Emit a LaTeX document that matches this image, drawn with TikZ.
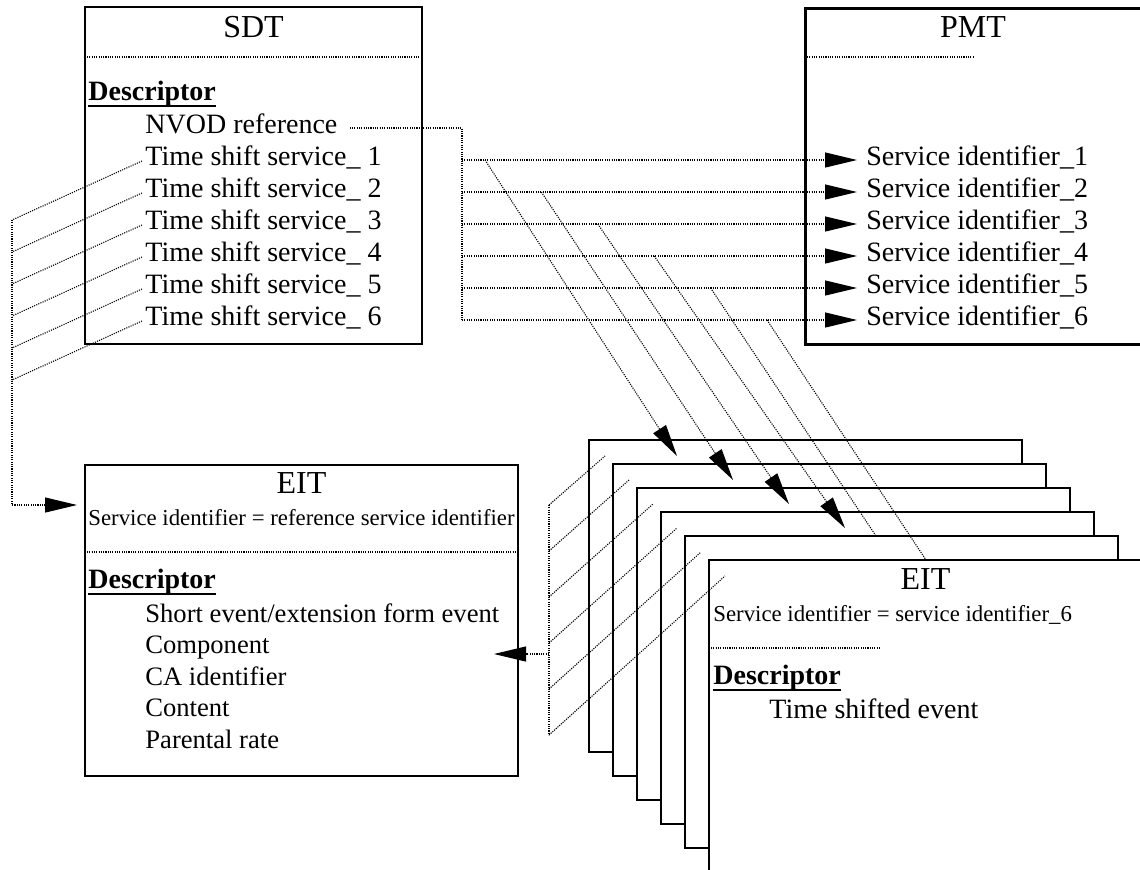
\documentclass[tikz,border=0pt]{standalone}
\usepackage{fontspec}
\setmainfont{Liberation Serif}
\usetikzlibrary{arrows.meta}

\tikzset{
  txt/.style={inner sep=0pt, anchor=base west, font=\fontsize{14}{16}\selectfont},
  ttl/.style={inner sep=0pt, anchor=base, font=\fontsize{16}{18}\selectfont},
  smalltxt/.style={inner sep=0pt, anchor=base, font=\fontsize{11.4}{13}\selectfont},
  desc/.style={txt, font=\fontsize{14}{16}\selectfont\bfseries},
  link/.style={line width=0.55pt, dash pattern=on 0.55pt off 0.6pt},
  arr/.style={-{Triangle[length=16pt,width=7.5pt]}},
  tbox/.style={draw, line width=0.75pt},
  eitpage/.style={draw, fill=white, line width=0.65pt},
}

\begin{document}
\begin{tikzpicture}[x=0.5pt,y=-0.5pt]
  \useasboundingbox (0,0) rectangle (1140,869);

  % SDT
  \draw[tbox] (85,7) rectangle (422,344);
  \node[ttl] (sdt) at (253.5,37) {SDT};
  \draw[link] (87,57) -- (420,57);
  \node[desc] (sdtdesc) at (88,100) {Descriptor};
  \node[txt] (nvod) at (145,133) {NVOD reference};
  \foreach \k in {1,...,6}
    \node[txt] (tss\k) at (145,133+32*\k) {Time shift service\_ \k};

  % PMT
  \draw[tbox, line width=1.5pt] (805,8) rectangle (1146,344);
  \node[ttl] (pmt) at (973,37) {PMT};
  \draw[link] (807,57) -- (973,57);
  \foreach \k in {1,...,6}
    \node[txt] (sid\k) at (866,133+32*\k) {Service identifier\_\k};

  % EIT of the reference service
  \draw[tbox] (85,465) rectangle (518,776);
  \node[ttl] (eit) at (301.5,493) {EIT};
  \node[smalltxt] (eitsid) at (301.5,525) {Service identifier = reference service identifier};
  \draw[link] (87,552) -- (516,552);
  \node[desc] (eitdesc) at (88,588) {Descriptor};
  \foreach \t [count=\i from 0] in {Short event/extension form event, Component,
      CA identifier, Content, Parental rate}
    \node[txt, font=\fontsize{13.3}{16}\selectfont] (item\i) at (145,622+31.5*\i) {\t};

  % EITs of the time shifted services
  \foreach \k in {0,...,5}
    \draw[eitpage] (589+24*\k,440+24*\k) rectangle ++(433,312);
  \node[ttl] (eit6) at (925.5,589) {EIT};
  \node[smalltxt, anchor=base west] (eit6sid) at (713,621) {Service identifier = service identifier\_6};
  \draw[link] (711,648) -- (879,648);
  \node[desc] (eit6desc) at (713,684) {Descriptor};
  \node[txt] (tse) at (769,718) {Time shifted event};

  \foreach \n in {sdtdesc, eitdesc, eit6desc}
    \draw[line width=1pt] ([yshift=-3pt]\n.base west) -- ([yshift=-3pt]\n.base east);

  % NVOD reference -> service identifiers
  \coordinate (nvodout) at ([shift={(6pt,2.5pt)}]nvod.base east);
  \foreach \k in {1,...,6} {
    \coordinate (bus\k) at (462,128+32*\k);
    \draw[link, arr] (bus\k) -- ([shift={(-4.5pt,2.5pt)}]sid\k.base west);
  }
  \draw[link] (nvodout) -| (bus6);

  % service identifiers -> time shifted EITs
  \foreach \k in {1,...,6}
    \coordinate (tap\k) at (428.6+56.4*\k,128+32*\k);
  \foreach \k/\x/\y in {1/677/456, 2/733/480, 3/789/504, 4/845/528}
    \draw[link, arr] (tap\k) -- (\x,\y);
  \draw[link] (tap5) -- (876,536);
  \draw[link] (tap6) -- (926,560);

  % time shift services -> reference EIT
  \foreach \k in {1,...,6} {
    \coordinate (ts\k) at ([shift={(-1.5pt,2pt)}]tss\k.base west);
    \coordinate (lt\k) at (12,188+32*\k);
    \draw[link] (ts\k) -- (lt\k);
  }
  \coordinate (eitin) at (77,505);
  \draw[link, arr] (lt1) |- (eitin);

  % time shifted EITs -> reference EIT
  \foreach \k in {0,...,5} {
    \coordinate (sl\k) at (549,505+46*\k);
    \draw[link] (sl\k) -- (605+24*\k,456+24*\k);
  }
  \draw[link] (sl0) -- (sl5);
  \coordinate (eitback) at (494,654);
  \draw[link, arr] (sl0 |- eitback) -- (eitback);
\end{tikzpicture}
\end{document}
